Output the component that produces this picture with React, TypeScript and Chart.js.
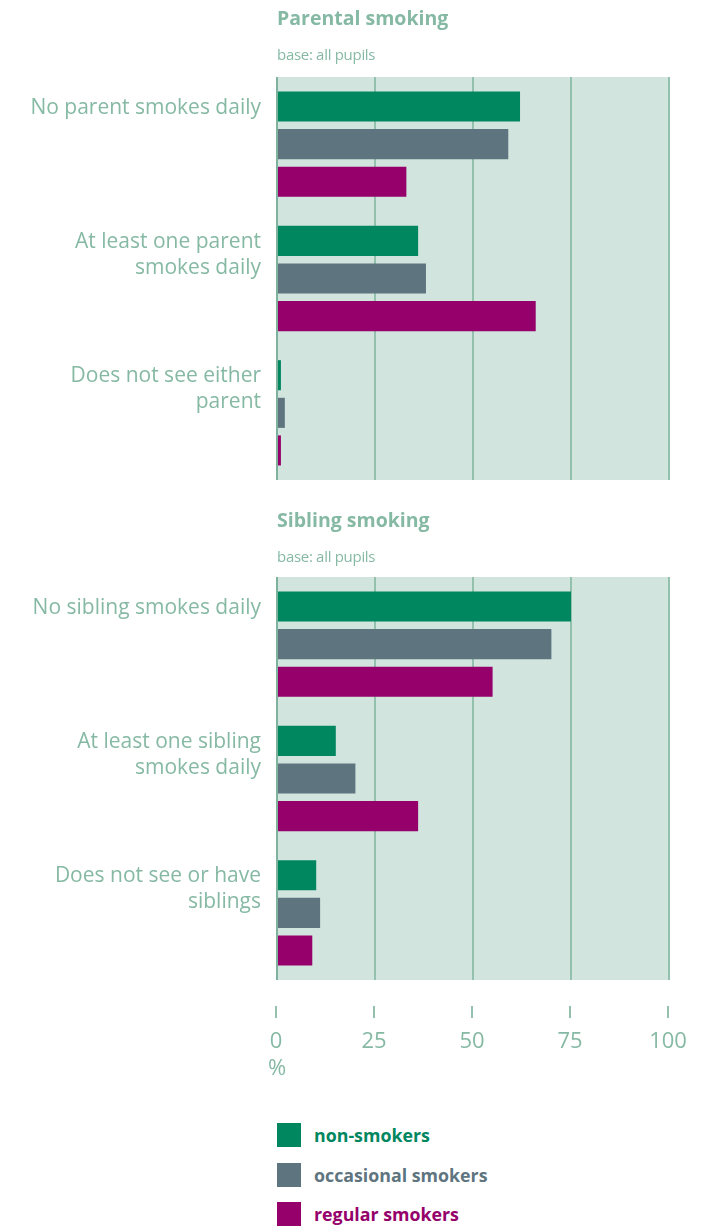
import React, { useEffect, useRef } from "react";
import { Chart, registerables } from "chart.js";
Chart.register(...registerables);

const seriesNames = ["non-smokers", "occasional smokers", "regular smokers"];
const seriesColors = ["#00875f", "#5e7580", "#95006a"];

const parentTitle = "Parental smoking";
const parentCategories = [["No parent smokes daily"], ["At least one parent", "smokes daily"], ["Does not see either", "parent"]];
const parentNon = [62, 36, 1];
const parentOcc = [59, 38, 2];
const parentReg = [33, 66, 1];

const siblingTitle = "Sibling smoking";
const siblingCategories = [["No sibling smokes daily"], ["At least one sibling", "smokes daily"], ["Does not see or have", "siblings"]];
const siblingNon = [75, 15, 10];
const siblingOcc = [70, 20, 11];
const siblingReg = [55, 36, 9];

const subtitle = "base: all pupils";
const xTicks = [0, 25, 50, 75, 100];
const unitLabel = "%";

const FONT = "'Open Sans', 'Noto Sans', sans-serif";
const TEXT = "#86b9a4";
const GRID = "#93c1ae";
const GRID0 = "#7fb29c";
const BG = "#d2e4de";

const bgPlugin = {
  id: "bg",
  beforeDraw(chart: any) {
    const { ctx, chartArea } = chart;
    ctx.save();
    ctx.fillStyle = BG;
    ctx.fillRect(chartArea.left, chartArea.top, chartArea.right - chartArea.left, chartArea.bottom - chartArea.top);
    ctx.restore();
  },
};

const catLabelPlugin = {
  id: "catLabels",
  afterDraw(chart: any) {
    const cats: string[][] = chart.options.plugins.catLabels.cats;
    const meta = chart.getDatasetMeta(0);
    const { ctx, chartArea } = chart;
    ctx.save();
    ctx.font = `21px ${FONT}`;
    ctx.fillStyle = TEXT;
    ctx.textAlign = "right";
    ctx.textBaseline = "middle";
    cats.forEach((lines, i) => {
      const bar = meta.data[i];
      lines.forEach((ln, k) => {
        ctx.fillText(ln, chartArea.left - 16, bar.y + 1 + k * 26);
      });
    });
    ctx.restore();
  },
};

const axisPlugin = {
  id: "bottomAxis",
  afterDraw(chart: any) {
    if (!chart.options.plugins.bottomAxis.show) return;
    const { ctx, chartArea } = chart;
    const sx = chart.scales.x;
    ctx.save();
    ctx.strokeStyle = GRID;
    ctx.lineWidth = 2;
    ctx.fillStyle = TEXT;
    ctx.font = `22px ${FONT}`;
    ctx.textAlign = "center";
    ctx.textBaseline = "middle";
    xTicks.forEach((v) => {
      const px = Math.round(sx.getPixelForValue(v)) - 1;
      ctx.beginPath();
      ctx.moveTo(px, chartArea.bottom + 26);
      ctx.lineTo(px, chartArea.bottom + 38);
      ctx.stroke();
      ctx.fillText(String(v), px, chartArea.bottom + 62);
    });
    ctx.fillText(unitLabel, sx.getPixelForValue(0), chartArea.bottom + 89);
    ctx.restore();
  },
};

function Panel(props: { cats: string[][]; a: number[]; b: number[]; c: number[]; top: number; height: number; padBottom: number; axis: boolean }) {
  const ref = useRef<HTMLCanvasElement>(null);
  useEffect(() => {
    const chart = new Chart(ref.current!, {
      type: "bar",
      data: {
        labels: props.cats.map((l) => l.join(" ")),
        datasets: [props.a, props.b, props.c].map((d, i) => ({
          label: seriesNames[i],
          data: d,
          backgroundColor: seriesColors[i],
          borderWidth: 0,
          categoryPercentage: 0.84,
          barPercentage: 0.8,
        })),
      },
      options: {
        indexAxis: "y",
        animation: false,
        responsive: false,
        maintainAspectRatio: false,
        layout: { padding: { left: 277, right: 40, top: 77, bottom: props.padBottom } },
        scales: {
          x: {
            min: 0,
            max: 100,
            ticks: { display: false, stepSize: 25 },
            grid: {
              drawTicks: false,
              lineWidth: 2,
              color: (c: any) => (c.tick && c.tick.value === 0 ? GRID0 : GRID),
            },
            border: { display: false },
          },
          y: { display: false },
        },
        plugins: {
          legend: { display: false },
          tooltip: { enabled: false },
          catLabels: { cats: props.cats },
          bottomAxis: { show: props.axis },
        } as any,
      },
      plugins: [bgPlugin, catLabelPlugin, axisPlugin],
    });
    return () => chart.destroy();
  }, []);
  return (
    <canvas
      ref={ref}
      width={709}
      height={props.height}
      style={{ position: "absolute", left: 0, top: props.top, width: 709, height: props.height }}
    />
  );
}

function Titles(props: { title: string; top: number }) {
  return (
    <>
      <div style={{ position: "absolute", left: 277, top: props.top, font: `bold 19.5px ${FONT}`, color: TEXT, lineHeight: "24px", whiteSpace: "nowrap" }}>
        {props.title}
      </div>
      <div style={{ position: "absolute", left: 277, top: props.top + 38, font: `15px ${FONT}`, color: TEXT, lineHeight: "20px", whiteSpace: "nowrap", letterSpacing: "-0.3px" }}>
        {subtitle}
      </div>
    </>
  );
}

export default function App() {
  return (
    <div style={{ position: "absolute", left: 0, top: 0, width: 709, height: 1226, overflow: "hidden", background: "#fff" }}>
      <Panel cats={parentCategories} a={parentNon} b={parentOcc} c={parentReg} top={0} height={490} padBottom={10} axis={false} />
      <Panel cats={siblingCategories} a={siblingNon} b={siblingOcc} c={siblingReg} top={500} height={600} padBottom={120} axis={true} />
      <Titles title={parentTitle} top={6} />
      <Titles title={siblingTitle} top={508} />
      {seriesNames.map((n, i) => (
        <div key={n} style={{ position: "absolute", left: 277, top: 1123 + i * 39.5, height: 24, display: "flex", alignItems: "center" }}>
          <div style={{ width: 24, height: 24, background: seriesColors[i] }} />
          <div style={{ marginLeft: 13, font: `bold 17.8px ${FONT}`, color: seriesColors[i], whiteSpace: "nowrap" }}>{n}</div>
        </div>
      ))}
    </div>
  );
}
